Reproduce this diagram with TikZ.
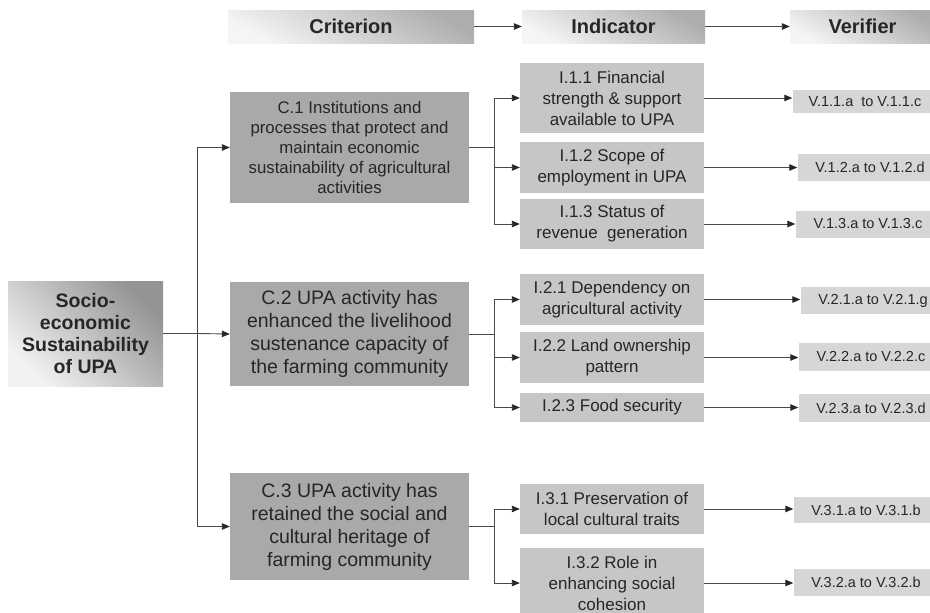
\documentclass[tikz,border=0pt]{standalone}
\usepackage{fontspec}
\setmainfont{Liberation Sans}
\usetikzlibrary{arrows.meta}
\definecolor{cfill}{HTML}{A9A9A9}
\definecolor{ifill}{HTML}{C6C6C6}
\definecolor{vfill}{HTML}{D6D6D6}
\definecolor{txt}{HTML}{262626}
\definecolor{lncol}{HTML}{4A4A4A}
\begin{document}
\begin{tikzpicture}[x=1pt,y=-1pt,
  box/.style={inner sep=0pt, align=center, text=txt},
  cbox/.style={box, fill=cfill, minimum width=239pt, font=\fontsize{19.5}{23}\selectfont},
  ibox/.style={box, fill=ifill, minimum width=184pt, font=\fontsize{17}{21}\selectfont},
  vbox/.style={box, fill=vfill, minimum width=145pt, font=\fontsize{14.5}{17}\selectfont},
  hbox/.style={box, minimum height=33pt, font=\bfseries\fontsize{20}{24}\selectfont,
    top color=black!32, middle color=black!12, bottom color=black!4, shading angle=-30},
  rootbox/.style={box, minimum width=155pt, minimum height=105pt,
    font=\bfseries\fontsize{19.5}{22}\selectfont,
    top color=black!42, middle color=black!13, bottom color=black!5, shading angle=-45},
  ln/.style={draw=lncol, line width=0.9pt},
  arr/.style={ln, -{Triangle[length=8pt,width=6.5pt,color=black!85]}},
]
\useasboundingbox[fill=white] (0,0) rectangle (930,613);
\begin{scope}
\clip (0,0) rectangle (930,613);
% header
\node[hbox, minimum width=246pt] (hC) at (351,26.5) {Criterion};
\node[hbox, minimum width=183pt] (hI) at (613.5,26.5) {Indicator};
\node[hbox, minimum width=145pt] (hV) at (862.5,26.5) {Verifier};
\draw[arr] (hC.east) -- (hI.west);
\draw[arr] (hI.east) -- (hV.west);

% root
\node[rootbox] (root) at (85.5,333.5) {Socio-\\economic\\Sustainability\\of UPA};

% criteria
\node[cbox, minimum height=111pt, font=\fontsize{16.8}{20}\selectfont] (C1) at (349.5,147.5)
  {C.1 Institutions and\\processes that protect and\\maintain economic\\sustainability of agricultural\\activities};
\node[cbox, minimum height=104pt] (C2) at (349.5,334)
  {C.2 UPA activity has\\enhanced the livelihood\\sustenance capacity of\\the farming community};
\node[cbox, minimum height=107pt] (C3) at (349.5,526.5)
  {C.3 UPA activity has\\retained the social and\\cultural heritage of\\farming community};

\coordinate (j0) at (197,333.5);
\draw[ln] (root.east) -- (j0);
\draw[arr] (j0) |- (C1.west);
\draw[arr] (j0) -- (C2.west);
\draw[arr] (j0) |- (C3.west);

% indicators
\node[ibox, minimum height=70pt] (I11) at (612,98) {I.1.1 Financial\\strength \& support\\available to UPA};
\node[ibox, minimum height=51pt] (I12) at (612,167.5) {I.1.2 Scope of\\employment in UPA};
\node[ibox, minimum height=50pt] (I13) at (612,224) {I.1.3 Status of\\revenue~ generation};
\node[ibox, minimum height=51pt] (I21) at (612,299.5) {I.2.1 Dependency on\\agricultural activity};
\node[ibox, minimum height=51pt] (I22) at (612,357.5) {I.2.2 Land ownership\\pattern};
\node[ibox, minimum height=29pt] (I23) at (612,407.5) {I.2.3 Food security};
\node[ibox, minimum height=50pt] (I31) at (612,509) {I.3.1 Preservation of\\local cultural traits};
\node[ibox, minimum height=70pt] (I32) at (612,583) {I.3.2 Role in\\enhancing social\\cohesion};

\coordinate (j1) at (494,147.5);
\coordinate (j2) at (494,334);
\coordinate (j3) at (494,526.5);
\draw[ln] (C1.east) -- (j1);
\draw[ln] (C2.east) -- (j2);
\draw[ln] (C3.east) -- (j3);
\foreach \j/\i in {j1/I11, j1/I12, j1/I13, j2/I21, j2/I22, j2/I23, j3/I31, j3/I32}
  \draw[arr] (\j) |- (\i.west);

% verifiers
\node[vbox, minimum height=23pt] (V11) at (865,101.5) {V.1.1.a~ to V.1.1.c};
\node[vbox, minimum height=27pt] (V12) at (870,167.5) {V.1.2.a to V.1.2.d};
\node[vbox, minimum height=27pt] (V13) at (868,224) {V.1.3.a to V.1.3.c};
\node[vbox, minimum height=27pt] (V21) at (873,300.5) {V.2.1.a to V.2.1.g};
\node[vbox, minimum height=28pt] (V22) at (871,357) {V.2.2.a to V.2.2.c};
\node[vbox, minimum height=28pt] (V23) at (871,408) {V.2.3.a to V.2.3.d};
\node[vbox, minimum height=26pt] (V31) at (866,510) {V.3.1.a to V.3.1.b};
\node[vbox, minimum height=27pt] (V32) at (866,582.5) {V.3.2.a to V.3.2.b};

\foreach \i/\v in {I11/V11, I12/V12, I13/V13, I21/V21, I22/V22, I23/V23, I31/V31, I32/V32}
  \draw[arr] (\i.east) -- (\i.east -| \v.west);
\end{scope}
\end{tikzpicture}
\end{document}
